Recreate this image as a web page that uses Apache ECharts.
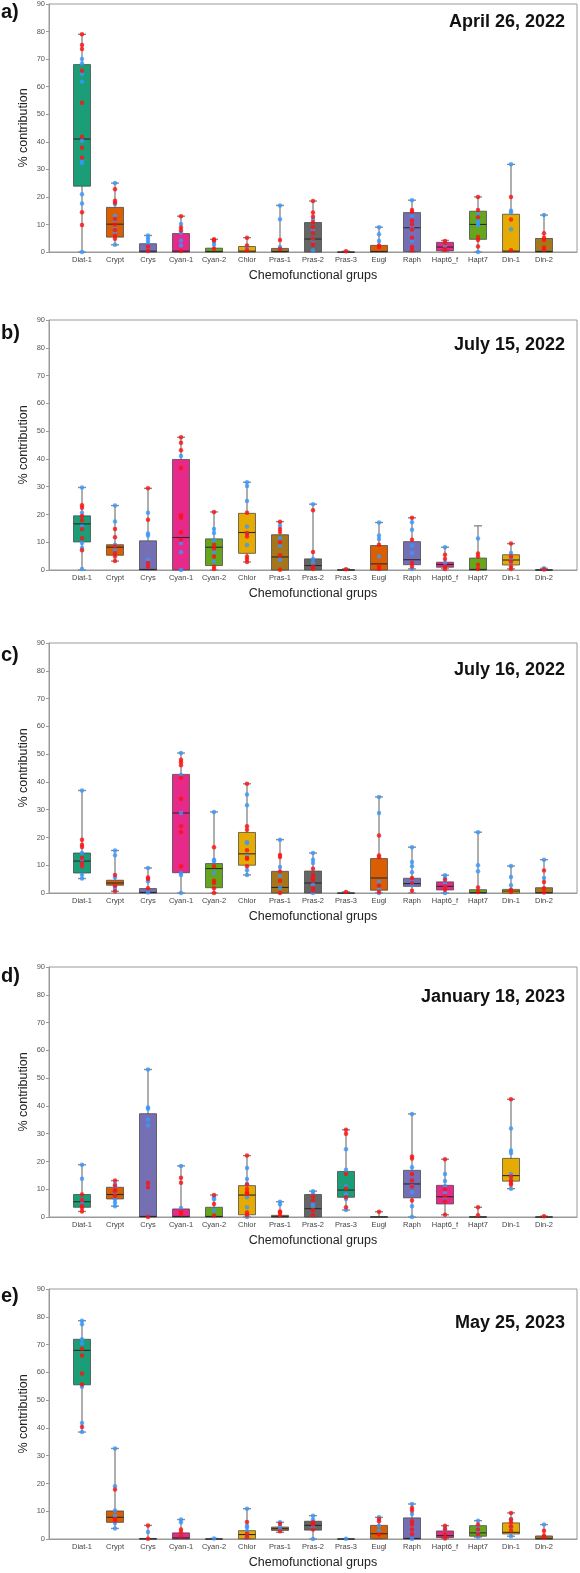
<!DOCTYPE html>
<html>
<head>
<meta charset="utf-8">
<script src="https://cdn.jsdelivr.net/npm/echarts@6/dist/echarts.min.js"></script>
<style>
  html,body{margin:0;padding:0;background:#fff;}
  #chart{width:580px;height:1573px;}
</style>
</head>
<body>
<div id="chart"></div>
<script>
'use strict';

/* ---------- data ---------- */
const CATS = ['Diat-1','Crypt','Crys','Cyan-1','Cyan-2','Chlor','Pras-1','Pras-2','Pras-3','Eugl','Raph','Hapt6_f','Hapt7','Din-1','Din-2'];
const COLORS = ['#1B9E77','#D95F02','#7570B3','#E7298A','#66A61E','#E6AB02','#A6761D','#666666',
                '#1B9E77','#D95F02','#7570B3','#E7298A','#66A61E','#E6AB02','#A6761D'];
const LETTERS = ['a)','b)','c)','d)','e)'];
const DATES = ['April 26, 2022','July 15, 2022','July 16, 2022','January 18, 2023','May 25, 2023'];
const Y_TICKS = [0,10,20,30,40,50,60,70,80,90];

// [min, q1, median, q3, max] per group
const A_BOX = [[0,23.9,41.0,68.0,79.0],[2.6,5.4,10.1,16.2,25.0],[0,0,0.3,3.0,6.0],[0,0,0.3,6.7,13.0],[0,0,0.2,1.4,4.6],
  [0,0,0.3,2.0,5.2],[0,0,0.2,1.3,16.9],[0,0,4.7,10.7,18.5],[0,0,0,0,0.3],[0,0,0.2,2.4,9.0],
  [0,0.2,8.8,14.3,18.8],[0.2,0.4,1.8,3.5,4.2],[0,4.6,10.0,14.8,20.0],[0,0,0.3,13.7,31.8],[0,0,0.2,4.9,13.4]];
const A_RED = [[79,75.1,73.7,65.8,54.2,41.8,37.8,34.2,14.4,9.8],[22.8,18.6,17.9,12,10,8,5.9,4.8],[2,0.4],[13,8.9,7.8,0.4],[4.6,4.2,1.2],
  [5.2,2.4,0.6],[4.4,1.1],[18.5,14.3,12.8,10.8,9,7,4.7,2.6],[0.3],[2.4,1.8],
  [15.2,14.5,11.4,10,8.2,5.2,1.8,0.6],[4,3.2,1.2,0.8],[20,15.2,12.6,5.4,4.4,2],[20,11.8,0.6],[6.8,5.2,4.4,1.6,0.8]];
const A_BLUE = [[70,68.4,64.7,61.8,40.4,33.2,32.3,21,17.6,0],[25,17.4,13.2,11.4,8.4,7.2,2.6],[6,5.2,4.2,3.2],[10.2,7,4.2,2.4],[3.6,2.6],
  [1.6],[16.9,11.9,1.8],[11.8,8,4.4,0.6],[],[9,6.4,4],
  [18.8,13.2,9,4.2],[2.6,2],[13.8,11.4,10.4,9.7,0],[31.8,15,14.3,8.3],[13.4]];

const B_BOX = [[0,10.1,16.6,19.5,29.7],[3.2,5.3,8.2,9.1,23.2],[0,0,0.2,10.5,29.4],[0,0,11.7,39.8,47.8],[0,1.6,8.2,11.2,20.9],
  [2.9,6.0,13.5,20.4,31.6],[0,0,4.7,12.7,17.4],[0,0,1.6,4.0,23.7],[0,0,0,0.1,0.4],[0,0,2.2,8.8,17.1],
  [0.4,1.9,3.7,10.2,18.8],[0.4,1.0,2.0,2.8,8.2],[0,0,0.2,4.3,15.9],[0.4,1.8,3.6,5.5,9.5],[0,0,0,0.1,0.6]];
const B_RED = [[23.3,22.4,19.4,17.9,14.8,11.4,7.1],[14.8,11.8,8.5,6.1,4.9,3.2],[29.4,18.1,2.5,1.3],[47.8,45.8,43.1,36.7,19.7,18.8,13.6,10.9],[20.9,9.1,7.7,4.9,1.3,0.4],
  [20.6,13.3,12.1,4.9,4.0,2.9],[17.4,14.8,13.7,10,5.3,0.1],[21.5,6.5,1.3,0.4],[0.3],[9.1,1.3,0.4],
  [18.8,10.9,2.5,1.3],[5.5,4.0,1.3,0.4],[5.9,4.9,1.9,0.4],[9.5,4.9,3.1,1.3,0.4],[0.2]];
const B_BLUE = [[29.7,20.6,15.7,9.7,7.9,0.4],[23.2,17.5,9.1,7.3,6.4],[20.6,13.1,12.4,3.7],[41,9.7,6.4,0],[14.8,13.3,10.7,6.5,3.1],
  [31.6,30.2,24.8,15.7,13.0,9.0],[16,11.4,8.8,3.7],[23.7,4.0,2.5],[],[17.1,12.4,11.2,4.9],
  [17.2,14.5,8.8,6.1,0.4],[8.2,2.5],[11.3],[6.1,4.1,2.5],[0.6]];

const C_BOX = [[5.2,7.2,11.5,14.4,36.9],[0.6,2.8,3.6,4.6,15.3],[0,0,0.2,1.6,9.0],[0,7.3,28.8,42.7,50.4],[0,1.9,8.8,10.6,29.2],
  [6.5,10.0,14.1,21.8,39.3],[0,0,2.0,7.8,19.2],[0,0,3.6,7.9,14.4],[0,0,0,0,0.4],[0,1.0,5.4,12.4,34.6],
  [0,2.4,3.4,5.3,16.5],[0,1.1,2.4,4.0,6.4],[0,0,0.1,1.2,21.9],[0,0,0.7,1.3,9.7],[0,0,0.1,1.9,12.0]];
const C_RED = [[19.2,17.4,16.6,12.6,10.8,9.6],[6.5,2.6,0.6],[5.6,5.0,1.7],[48,47.1,46,41.5,33.9,24,22,9.6],[16.5,9.6,4.4,3.6,1.7,0],
  [39.3,24,22.8,15.4,12.6,12.3,9.6],[13.7,13,7.7,4.4,0],[8.7,6.6,5.3,4.4,1.8,0.8],[0.4],[20.7,13.5,12.9,2.6,0.4],
  [5.4,3.6,0.8],[4.8,2.4,1.2],[2.0,0.4],[1.2,0.4],[8.1,4,1.7,0.2]];
const C_BLUE = [[36.9,14.4,12,9.6,6.6,5.2],[15.3,13.6,5.6,2.4,1.4],[9,4.2,0.2],[50.4,42.5,28.8,7.2,6.5,0],[29.2,12,11.4,7.2],
  [35.5,31.6,18.3,18,13.2,8.2,6.5],[19.2,9.4,6.3,1.8],[14.4,12,10.8,3,0],[],[34.6,28.8,4.1,1.7,0],
  [16.5,11.2,9.6,7.5,4.2,2.8],[6.4,5.4,3.6,2.9,0],[21.9,10,7.8],[9.7,5.8,2.8],[12,5.4]];

const D_BOX = [[2.0,3.5,5.5,8.1,18.8],[3.9,6.5,8.1,10.7,13.1],[0,0,0.2,37.2,53.1],[0,0,0.2,2.9,18.4],[0,0,0.2,3.5,7.9],
  [0,0.8,7.9,11.3,22.1],[0,0,0.1,0.6,5.5],[0,0,3.0,8.1,9.3],[2.5,7.1,9.7,16.4,31.4],[0,0,0,0.1,1.9],
  [0,6.9,11.9,16.8,37.1],[0.8,4.7,7.3,11.4,20.8],[0,0,0,0.1,3.5],[10.2,12.9,14.9,21.1,42.4],[0,0,0,0.05,0.3]];
const D_RED = [[8.1,6.1,4.1,3.2,2.0],[13.1,11.3,9.7,9.3,7.6],[12.2,10.7,0],[14.1,12.3,2.0,1.1],[7.9,4.7,0.5],
  [22.1,11.7,10.1,8.9,8.3,1.6,0.6],[2.0,1.6,0.6],[7.6,5.9,2.5,0.6],[31.4,30,15.5,10.3,7.1,3.5],[1.9],
  [21.8,21.1,15.5,13.1,11,5.9],[20.8,10,7.5,5.7,0.8],[3.5,0.6],[42.4,14.6,13.1,12.2,11.6],[0.3]];
const D_BLUE = [[18.8,13.8,6.1,4.7],[11.9,10.7,8.7,6.4,5.2,3.9],[53.1,39.4,39,35.1,32.9],[18.4,3.2],[7.1,6.4,2.3],
  [17.6,13.7,11.9,7.1,3.5,0],[5.5,4.6],[9.3,8.5,4.9,3.9],[24.4,17,11,8.1,6.5,2.5],[],
  [37.1,17.9,11.2,8.9,3.9,0],[15.5,13,11.1,8.8,6.5],[],[31.9,23.9,23,15.5,14,10.2],[]];

const E_BOX = [[38.5,55.5,67.9,71.9,78.6],[3.8,6.0,7.8,10.1,32.6],[0,0,0,0.2,4.9],[0,0,0.4,2.2,7.0],[0,0,0,0.05,0.2],
  [0,0.1,1.6,3.0,10.9],[2.4,3.1,3.7,4.3,6.0],[0,3.2,4.9,6.4,8.4],[0,0,0,0.05,0.1],[0,0.1,1.9,4.9,7.8],
  [0,0,0.2,7.6,12.6],[0.2,0.5,1.2,2.9,4.8],[0.7,1.0,2.2,4.8,6.6],[1.0,1.8,2.4,5.8,9.4],[0,0,0.1,1.1,5.2]];
const E_RED = [[68.5,66.1,59.6,55.6,40.3],[17.8,7.2,6.6],[4.9,0.1],[3.4,2.4,1.2],[],
  [6.1,1.9,0.6],[5.5,2.8],[6,5.2,3.4],[],[7.2,6.4,1.6],
  [11.2,10.3,6.4,5.2,3.4,1.7],[4.8,3.4,1.8,0.2],[5.2,3.4,1.6],[9.4,7,6,4.6,3.1],[3,1.3,0.6]];
const E_BLUE = [[78.6,77.3,71.9,70.4,54.8,41.8,38.5],[32.6,19,10.3,8.4,5.8,3.8],[2.5],[7,6,1.6],[0.2],
  [10.9,4.8,4.1,2.8,1],[6,4.6,3.4],[8.4,7,4.2,0],[0.1],[7.8,4.8,3.1],
  [12.6,9,0],[4,2.5],[6.6,4.3,2.8,0.7],[7.2,4.2,1],[5.2]];

const PANELS = [
  {box:A_BOX, red:A_RED, blue:A_BLUE},
  {box:B_BOX, red:B_RED, blue:B_BLUE},
  {box:C_BOX, red:C_RED, blue:C_BLUE},
  {box:D_BOX, red:D_RED, blue:D_BLUE},
  {box:E_BOX, red:E_RED, blue:E_BLUE},
];

/* ---------- layout ---------- */
const FONT = '"Liberation Sans", Arial, Helvetica, sans-serif';
const GRID_TOP = [2, 320, 643, 967, 1289];
const LETTER_Y = [12, 333, 655, 976, 1296];
const DATE_Y = [22, 345, 670, 997, 1323];
const RED = '#ff1010', BLUE = '#3898ff';
const WHISK = '#8c8c8c';

function renderBox(params, api){
  const i = api.value(0);
  const p = [1,2,3,4,5].map(k => api.coord([i, api.value(k)]));
  const x = p[0][0], hw = 8.5, cw = 4;
  const [yMin, yQ1, yMed, yQ3, yMax] = p.map(q => q[1]);
  const ws = {stroke:WHISK, lineWidth:1.4};
  const kids = [];
  if (yMax < yQ3) {
    kids.push({type:'line', shape:{x1:x,y1:yQ3,x2:x,y2:yMax}, style:ws});
    kids.push({type:'line', shape:{x1:x-cw,y1:yMax,x2:x+cw,y2:yMax}, style:ws});
  }
  if (yMin > yQ1) {
    kids.push({type:'line', shape:{x1:x,y1:yQ1,x2:x,y2:yMin}, style:ws});
    kids.push({type:'line', shape:{x1:x-cw,y1:yMin,x2:x+cw,y2:yMin}, style:ws});
  }
  kids.push({type:'rect', shape:{x:x-hw, y:yQ3, width:hw*2, height:Math.max(yQ1-yQ3,0.5)},
    style:{fill:COLORS[i-1], stroke:'rgba(70,70,70,0.75)', lineWidth:1}});
  kids.push({type:'line', shape:{x1:x-hw,y1:yMed,x2:x+hw,y2:yMed}, style:{stroke:'#2a2a2a', lineWidth:1.1}});
  return {type:'group', children:kids};
}

const chart = echarts.init(document.getElementById('chart'), null, {renderer:'canvas'});
const grids = [], xAxes = [], yAxes = [], series = [], graphics = [];
const xData = [''].concat(CATS, ['']);

PANELS.forEach((pn, g) => {
  grids.push({left:49, width:529, top:GRID_TOP[g], height:250, show:true, borderColor:'#9a9a9a', borderWidth:1});
  xAxes.push({
    type:'category', gridIndex:g, data:xData, boundaryGap:false,
    axisLine:{lineStyle:{color:'#9a9a9a'}}, axisTick:{show:false},
    axisLabel:{interval:0, fontSize:7.5, color:'#444', margin:4, fontFamily:FONT},
    splitLine:{show:false},
    name:'Chemofunctional grups', nameLocation:'middle', nameGap:17, nameMoveOverlap:false,
    nameTextStyle:{fontSize:12.5, color:'#222', fontFamily:FONT},
  });
  yAxes.push({
    type:'value', gridIndex:g, min:Y_TICKS[0], max:Y_TICKS[Y_TICKS.length-1], interval:10,
    axisLine:{show:true, lineStyle:{color:'#9a9a9a'}},
    axisTick:{show:true, length:3, lineStyle:{color:'#9a9a9a'}},
    axisLabel:{fontSize:7.5, color:'#555', margin:4, fontFamily:FONT},
    splitLine:{show:false},
    name:'% contribution', nameLocation:'middle', nameGap:19, nameMoveOverlap:false,
    nameTextStyle:{fontSize:12.5, color:'#222', fontFamily:FONT},
  });
  series.push({
    type:'custom', xAxisIndex:g, yAxisIndex:g, renderItem:renderBox, z:2,
    encode:{x:0, y:[1,2,3,4,5]},
    data:pn.box.map((b,k) => [k+1].concat(b)),
  });
  const pts = arr => arr.flatMap((vals,k) => vals.map(v => [k+1, v]));
  series.push({type:'scatter', xAxisIndex:g, yAxisIndex:g, z:3, symbolSize:4.5,
    itemStyle:{color:BLUE}, data:pts(pn.blue), silent:true});
  series.push({type:'scatter', xAxisIndex:g, yAxisIndex:g, z:4, symbolSize:4.5,
    itemStyle:{color:RED}, data:pts(pn.red), silent:true});

  graphics.push({type:'text', x:1, y:LETTER_Y[g],
    style:{text:LETTERS[g], font:'bold 20px '+FONT, fill:'#111', align:'left', verticalAlign:'middle'}});
  graphics.push({type:'text', x:565, y:DATE_Y[g],
    style:{text:DATES[g], font:'bold 18px '+FONT, fill:'#111', align:'right', verticalAlign:'middle'}});
});

chart.setOption({
  animation:false,
  grid:grids, xAxis:xAxes, yAxis:yAxes, series, graphic:graphics,
});
</script>
</body>
</html>
